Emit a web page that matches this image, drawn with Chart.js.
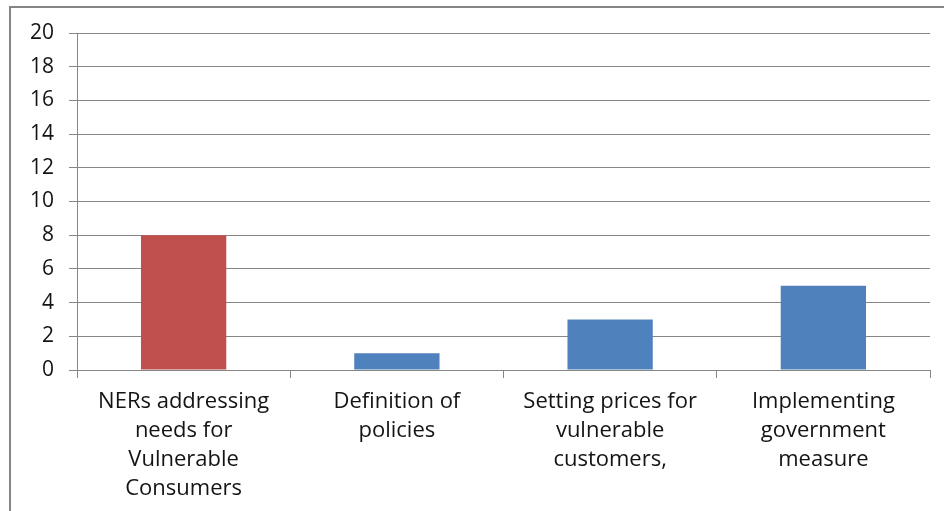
<!DOCTYPE html>
<html>
<head>
<meta charset="utf-8">
<script src="https://cdn.jsdelivr.net/npm/chart.js@4/dist/chart.umd.min.js"></script>
<style>
  html, body { margin: 0; padding: 0; background: #fff; }
  #wrap { position: relative; width: 944px; height: 511px; overflow: hidden; }
  #frame { position: absolute; left: 9px; top: 6px; width: 1000px; height: 1000px;
           border-left: 2px solid #858585; border-top: 2px solid #858585; }
  canvas { position: absolute; left: 0; top: 0; }
</style>
</head>
<body>
<div id="wrap">
  <div id="frame"></div>
  <canvas id="chart" width="944" height="511"></canvas>
</div>
<script>
// categories and values
const categories = [
  ['NERs addressing', 'needs for', 'Vulnerable', 'Consumers'],
  ['Definition of', 'policies'],
  ['Setting prices for', 'vulnerable', 'customers,'],
  ['Implementing', 'government', 'measure']
];
const counts = [8, 1, 3, 5];
const barColors = ['#C0504D', '#4F81BD', '#4F81BD', '#4F81BD'];
const yMin = 0, yMax = 20, yStep = 2;

const lineGray = '#868686';
const textColor = '#141414';
const font = 'Open Sans';

const ctx = document.getElementById('chart').getContext('2d');
new Chart(ctx, {
  type: 'bar',
  data: {
    labels: categories,
    datasets: [{
      data: counts,
      backgroundColor: barColors,
      borderWidth: 0,
      barPercentage: 0.4,
      categoryPercentage: 1.0
    }]
  },
  options: {
    responsive: false,
    animation: false,
    layout: { padding: { top: 33, right: 14, left: 0, bottom: 0 } },
    plugins: { legend: { display: false }, tooltip: { enabled: false } },
    scales: {
      x: {
        offset: true,
        grid: {
          offset: true,
          drawOnChartArea: false,
          drawTicks: true,
          tickLength: 8,
          color: lineGray
        },
        border: { color: lineGray, width: 1 },
        ticks: {
          color: textColor,
          font: { family: font, size: 22, lineHeight: '29px' },
          padding: 9,
          maxRotation: 0,
          autoSkip: false
        },
        afterFit: (scale) => { scale.height = 141; }
      },
      y: {
        min: yMin,
        max: yMax,
        grid: { color: lineGray, tickLength: 8 },
        border: { color: lineGray, width: 1 },
        ticks: {
          stepSize: yStep,
          color: textColor,
          font: { family: font, size: 21 },
          padding: 15
        },
        afterFit: (scale) => { scale.width = 77; }
      }
    }
  }
});
</script>
</body>
</html>
